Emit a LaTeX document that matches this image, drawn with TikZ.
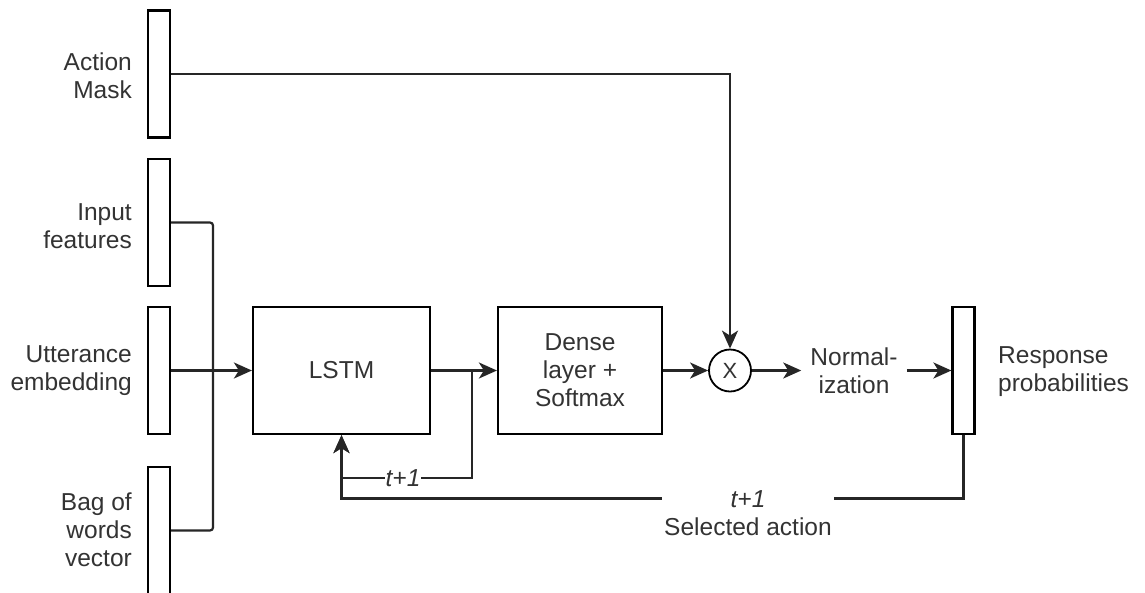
\documentclass[tikz,border=0pt]{standalone}
\usepackage{fontspec}
\setmainfont{Liberation Sans}
\usetikzlibrary{arrows.meta,calc}
\newcommand\dfont{\fontsize{24.5}{28}\selectfont}
\begin{document}
\begin{tikzpicture}[x=1pt,y=1pt,
  every node/.style={font=\dfont, text=black!80},
  bar/.style={draw=black, line width=2.2pt, fill=white, minimum width=22pt, minimum height=127pt, inner sep=0pt},
  box/.style={draw=black, line width=2.2pt, fill=white, align=center, inner sep=0pt, minimum height=127pt},
  lbl/.style={inner sep=0pt, align=right, anchor=east},
  conn/.style={draw=black!85, line width=2.2pt},
  arr/.style={conn, -{Stealth[length=18pt,width=16pt,inset=5pt]}},
  tlabel/.style={fill=white, inner xsep=2pt, inner ysep=0pt, align=center},
]
\clip (0,0) rectangle (1145,-592);
\fill[white] (0,0) rectangle (1145,-592);

% input bars
\node[bar] (am) at (159,-74) {};
\node[bar] (if) at (159,-222.5) {};
\node[bar] (ue) at (159,-370.5) {};
\node[bar] (bw) at (159,-530.5) {};
\node[lbl] (amt) at (132,-76) {Action\\Mask};
\node[lbl] (ift) at (132,-226) {Input\\features};
\node[lbl] (uet) at (132,-371) {Utterance\\embedding};
\node[lbl] (bwt) at (132,-530) {Bag of\\words\\vector};

% processing blocks
\node[box, minimum width=177pt] (lstm) at (341.5,-370.5) {LSTM};
\node[box, minimum width=164pt] (dense) at (580,-370.5) {Dense\\layer +\\Softmax};
\node[circle, draw=black, line width=1.8pt, fill=white, minimum size=42pt, inner sep=0pt, font=\fontsize{22}{26}\selectfont] (mult) at (730,-370.5) {X};
\node[align=center, inner xsep=9pt, inner ysep=0pt] (norm) at (854,-370.5) {Normal-\\ization};
\node[bar] (resp) at (963.5,-370.5) {};
\node[inner sep=0pt, align=left, anchor=west] (respt) at (998,-372) {Response\\probabilities};

% connectors
\draw[arr] (am.east) -| (mult.north);
\coordinate (bus) at (213,0);
\draw[conn, rounded corners=3pt] (if.east) -- (if.east -| bus) -- (bw.east -| bus) -- (bw.east);
\draw[arr] (ue.east) -- (lstm.west);
\draw[arr] (lstm.east) -- (dense.west);
\coordinate (branch) at (472,-370.5);
\coordinate (loopy) at (0,-478);
\draw[arr] (branch) |- (lstm.south |- loopy) -- (lstm.south);
\node[tlabel, inner xsep=1pt] (tone) at (403,-478) {\textit{t+1}};
\draw[arr] (dense.east) -- (mult.west);
\draw[arr] (mult.east) -- (norm.west);
\draw[arr] (norm.east) -- (resp.west);
\coordinate (fb) at (0,-498.5);
\draw[arr] (resp.south) |- (lstm.south |- fb) -- (lstm.south);
\node[tlabel] (sel) at (748,-513) {\textit{t+1}\\Selected action};
\end{tikzpicture}
\end{document}
